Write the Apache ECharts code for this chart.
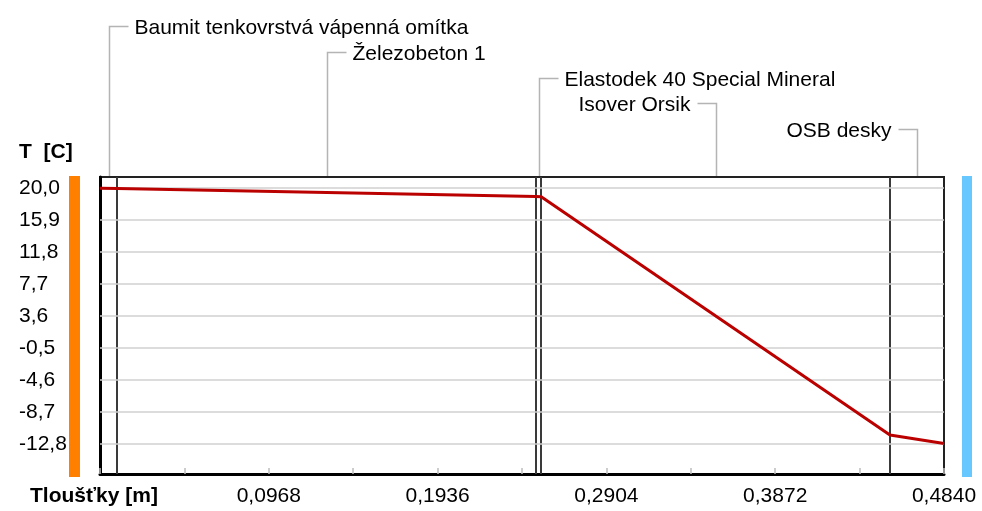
<!DOCTYPE html>
<html>
<head>
<meta charset="utf-8">
<script src="https://cdn.jsdelivr.net/npm/echarts@6/dist/echarts.min.js"></script>
<style>
  html, body { margin: 0; padding: 0; background: #ffffff; }
  #chart { width: 982px; height: 511px; }
</style>
</head>
<body>
<div id="chart"></div>
<script>
// Wall layers, from the interior side outwards
const layerNames = [
  'Baumit tenkovrstvá vápenná omítka',
  'Železobeton 1',
  'Elastodek 40 Special Mineral',
  'Isover Orsik',
  'OSB desky'
];
// Cumulative thickness at each layer interface [m]
const layerBounds = [0, 0.01, 0.25, 0.253, 0.453, 0.484];
// Temperature at each interface [°C]
const interfaceTemps = [19.96, 19.94, 18.91, 18.88, -11.65, -12.72];
// Temperature axis ticks
const tempTicks = [20.0, 15.9, 11.8, 7.7, 3.6, -0.5, -4.6, -8.7, -12.8];
const tempMin = -16.64;
const tempMax = 21.41;
// Thickness axis
const thicknessTotal = 0.484;
const thicknessStep = 0.0484;

const FONT = '"Liberation Sans", Arial, sans-serif';
const comma = (v, d) => v.toFixed(d).replace('.', ',');

const chart = echarts.init(document.getElementById('chart'), null, { renderer: 'canvas' });

const option = {
  animation: false,
  backgroundColor: '#ffffff',
  grid: {
    left: 100, right: 38, top: 177, bottom: 37,
    show: true, borderColor: '#222222', borderWidth: 2, backgroundColor: 'transparent'
  },
  xAxis: {
    type: 'value',
    min: 0,
    max: thicknessTotal,
    interval: thicknessStep,
    axisLine: { show: true, onZero: false, lineStyle: { color: '#000000', width: 3 } },
    axisTick: { show: true, inside: true, length: 6, lineStyle: { color: '#bdbdbd', width: 1.5 } },
    splitLine: { show: false },
    axisLabel: {
      margin: 12,
      color: '#000000',
      fontFamily: FONT,
      fontSize: 21,
      showMinLabel: true,
      showMaxLabel: true,
      formatter: function (v) {
        const k = Math.round(v / thicknessStep);
        if (k === 0 || k % 2 !== 0) return '';
        return comma(v, 4);
      }
    }
  },
  yAxis: {
    type: 'value',
    min: tempMin,
    max: tempMax,
    axisLine: { show: true, lineStyle: { color: '#000000', width: 3 } },
    axisTick: { show: false },
    splitLine: { show: false },
    axisLabel: {
      customValues: tempTicks,
      align: 'left',
      margin: 81,
      padding: [10, 0, 0, 0],
      color: '#000000',
      fontFamily: FONT,
      fontSize: 21,
      formatter: function (v) { return comma(v, 1); }
    }
  },
  series: [
    {
      // horizontal grid lines at the temperature ticks
      type: 'line',
      data: [],
      silent: true,
      z: 1,
      markLine: {
        silent: true,
        symbol: 'none',
        label: { show: false },
        lineStyle: { color: '#d0d0d0', width: 1.5, type: 'solid' },
        data: tempTicks.map(t => ({ yAxis: t }))
      }
    },
    {
      // temperature profile through the wall
      type: 'line',
      data: layerBounds.map((x, i) => [x, interfaceTemps[i]]),
      symbol: 'none',
      z: 5,
      lineStyle: { color: '#bb0000', width: 3 },
      itemStyle: { color: '#bb0000' }
    }
  ]
};

chart.setOption(option);

// Layer interfaces, captions with leader lines, colour strips, axis titles
function drawAnnotations() {
  const rowY = [26, 52, 78, 103, 129];
  const px = (x, y) => chart.convertToPixel({ gridIndex: 0 }, [x, y]);
  const top = px(0, tempMax)[1];
  const bottom = px(0, tempMin)[1];
  const left = px(0, tempMax)[0];
  const right = px(thicknessTotal, tempMax)[0];
  const leaderStyle = { stroke: '#b4b4b4', lineWidth: 1.5, fill: null };
  const elements = [];

  // vertical lines at the inner layer interfaces
  layerBounds.slice(1, -1).forEach(b => {
    const x = Math.round(px(b, 0)[0]);
    elements.push({
      type: 'line', silent: true, z: 2,
      shape: { x1: x, y1: top, x2: x, y2: bottom },
      style: { stroke: '#3a3a3a', lineWidth: 2 }
    });
  });

  layerNames.forEach((name, i) => {
    const mid = (layerBounds[i] + layerBounds[i + 1]) / 2;
    const mx = Math.round(px(mid, tempMax)[0]) + 0.5;
    const y = rowY[i] + 0.5;
    const toRight = i < 3;
    const hx = toRight ? mx + 19 : mx - 19;
    elements.push({
      type: 'polyline',
      silent: true,
      shape: { points: [[mx, top - 1], [mx, y], [hx, y]] },
      style: leaderStyle
    });
    elements.push({
      type: 'text',
      silent: true,
      x: toRight ? mx + 25 : mx - 26,
      y: y + 1.5,
      style: {
        text: name,
        fill: '#000000',
        font: '21px ' + FONT,
        align: toRight ? 'left' : 'right',
        verticalAlign: 'middle'
      }
    });
  });

  elements.push({
    type: 'rect', silent: true,
    shape: { x: left - 31, y: top - 1, width: 11, height: bottom - top + 4 },
    style: { fill: '#ff8000' }
  });
  elements.push({
    type: 'rect', silent: true,
    shape: { x: right + 18, y: top - 1, width: 10, height: bottom - top + 4 },
    style: { fill: '#66c8ff' }
  });
  elements.push({
    type: 'text', silent: true, x: 19, y: 152,
    style: { text: 'T  [C]', fill: '#000000', font: 'bold 21px ' + FONT, align: 'left', verticalAlign: 'middle' }
  });
  elements.push({
    type: 'text', silent: true, x: 30, y: 496,
    style: { text: 'Tloušťky [m]', fill: '#000000', font: 'bold 21px ' + FONT, align: 'left', verticalAlign: 'middle' }
  });

  chart.setOption({ graphic: { elements: elements } });
}

drawAnnotations();
</script>
</body>
</html>
